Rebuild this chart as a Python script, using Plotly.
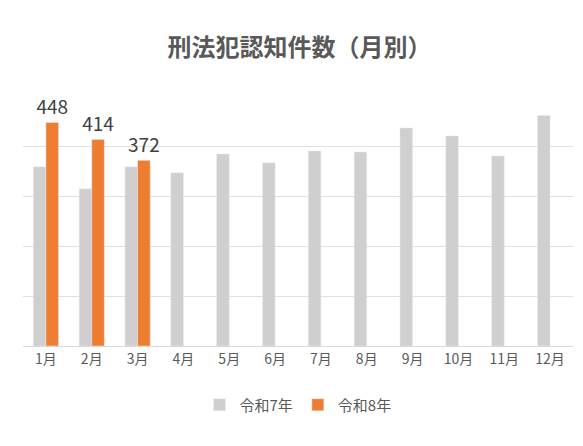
import plotly.graph_objects as go

months = ["1月", "2月", "3月", "4月", "5月", "6月", "7月", "8月", "9月", "10月", "11月", "12月"]
r7 = [359, 315, 359, 347, 385, 367, 391, 389, 437, 421, 381, 462]
r8 = [448, 414, 372]

fig = go.Figure()
fig.add_trace(go.Bar(x=months, y=r7, name="令和7年", marker_color="#d0cece"))
fig.add_trace(go.Bar(x=months[:3], y=r8, name="令和8年", marker_color="#ed7d31",
                     text=[str(v) for v in r8], textposition="outside",
                     constraintext="none",
                     textfont=dict(size=19, color="#404040"), cliponaxis=False))

fig.update_layout(
    width=583, height=446,
    font=dict(family="Noto Sans CJK JP", color="#595959", size=14),
    title=dict(text="<b>刑法犯認知件数（月別）</b>", x=0.5, xanchor="center", y=0.93,
               font=dict(size=24, color="#595959")),
    plot_bgcolor="white", paper_bgcolor="white",
    barmode="group", bargap=0.45, bargroupgap=0.0,
    margin=dict(l=15, r=18, t=88, b=108, autoexpand=False),
    legend=dict(orientation="h", x=0.5, xanchor="center", y=-0.17, yanchor="top",
                font=dict(size=15)),
    xaxis=dict(showline=True, linecolor="#d9d9d9", ticks="", tickfont=dict(size=14)),
    yaxis=dict(range=[0, 501], tickvals=[100, 200, 300, 400, 500], showticklabels=False,
               gridcolor="#e0e0e0", zeroline=False),
)
fig.write_html("out.html")
